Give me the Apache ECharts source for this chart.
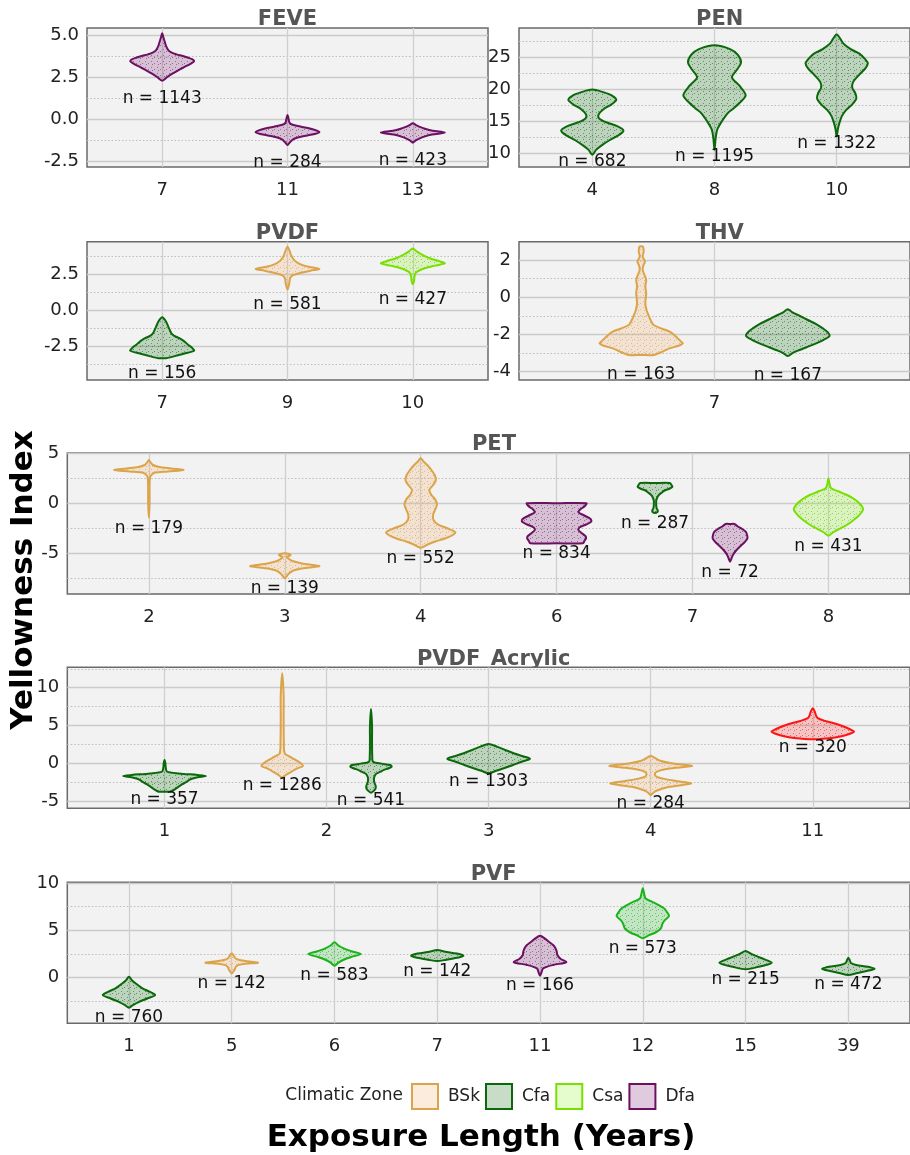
<!DOCTYPE html>
<html><head><meta charset="utf-8">
<script src="https://cdn.jsdelivr.net/npm/echarts@6/dist/echarts.min.js"></script>
<style>html,body{margin:0;padding:0;background:#fff}#c{width:910px;height:1155px}</style>
</head><body><div id="c"></div>
<script>
// ---------------- DATA ----------------
// FEVE
const feveYears = ['7', '11', '13'];
const feveYTicks = [-2.5, 0, 2.5, 5];
const feveViolinYear = ['7', '11', '13'];
const feveViolinZone = ['Dfa', 'Dfa', 'Dfa'];
const feveN = [1143, 284, 423];
const feveYs = [
  [5.1, 4.85, 4.6, 4.35, 4.1, 3.95, 3.85, 3.75, 3.65, 3.55, 3.45, 3.3, 3.1, 2.9, 2.7, 2.5, 2.28],
  [0.24, 0.05, -0.15, -0.3, -0.45, -0.57, -0.68, -0.78, -0.88, -0.97, -1.06, -1.15, -1.25, -1.4, -1.55],
  [-0.26, -0.36, -0.47, -0.58, -0.7, -0.815, -0.93, -1.05, -1.17, -1.29, -1.41]
];
const feveWs = [
  [0, 0.04, 0.08, 0.12, 0.19, 0.3, 0.45, 0.65, 0.82, 0.95, 1.0, 0.9, 0.7, 0.5, 0.32, 0.16, 0],
  [0, 0.03, 0.05, 0.1, 0.4, 0.7, 0.9, 1.0, 0.88, 0.65, 0.42, 0.25, 0.15, 0.07, 0],
  [0, 0.1, 0.22, 0.38, 0.62, 1.0, 0.6, 0.36, 0.2, 0.08, 0]
];
// PEN
const penYears = ['4', '8', '10'];
const penYTicks = [10, 15, 20, 25];
const penViolinYear = ['4', '8', '10'];
const penViolinZone = ['Cfa', 'Cfa', 'Cfa'];
const penN = [682, 1195, 1322];
const penYs = [
  [19.9, 19.5, 19.0, 18.3, 17.6, 16.8, 16.0, 15.4, 14.8, 14.2, 13.5, 12.8, 12.0, 11.2, 10.5, 9.75],
  [26.8, 26.2, 25.3, 24.1, 23.0, 21.8, 20.5, 19.0, 17.8, 17.0, 16.2, 14.9, 13.8, 13.1, 12.0, 10.5],
  [28.5, 27.1, 26.2, 25.5, 24.6, 24.0, 23.2, 22.2, 21.1, 20.2, 19.3, 18.5, 17.6, 16.7, 15.8, 14.9, 13.8, 12.6]
];
const penWs = [
  [0, 0.35, 0.62, 0.77, 0.62, 0.35, 0.2, 0.22, 0.45, 0.8, 1.0, 0.85, 0.55, 0.3, 0.12, 0],
  [0, 0.5, 0.75, 0.85, 0.72, 0.56, 0.8, 1.0, 0.8, 0.62, 0.42, 0.23, 0.1, 0.06, 0.03, 0],
  [0, 0.21, 0.45, 0.73, 0.92, 1.0, 0.92, 0.72, 0.53, 0.5, 0.6, 0.63, 0.5, 0.3, 0.17, 0.1, 0.04, 0]
];
// PVDF
const pvdfYears = ['7', '9', '10'];
const pvdfYTicks = [-2.5, 0, 2.5];
const pvdfViolinYear = ['7', '9', '10'];
const pvdfViolinZone = ['Cfa', 'BSk', 'Csa'];
const pvdfN = [156, 581, 427];
const pvdfYs = [
  [-0.51, -0.8, -1.16, -1.4, -1.63, -1.8, -1.98, -2.2, -2.4, -2.56, -2.72, -2.84, -2.98, -3.15, -3.3, -3.36, -3.36],
  [4.42, 4.1, 3.9, 3.6, 3.35, 3.15, 3.0, 2.87, 2.75, 2.6, 2.45, 2.3, 2.1, 1.8, 1.44],
  [4.3, 4.1, 3.85, 3.6, 3.4, 3.26, 3.1, 2.9, 2.7, 2.55, 2.3, 2.05, 1.81]
];
const pvdfWs = [
  [0, 0.12, 0.19, 0.24, 0.29, 0.38, 0.55, 0.7, 0.8, 0.9, 0.97, 1.0, 0.8, 0.5, 0.25, 0.12, 0],
  [0, 0.07, 0.1, 0.17, 0.28, 0.45, 0.7, 1.0, 0.72, 0.42, 0.2, 0.1, 0.07, 0.05, 0],
  [0, 0.12, 0.3, 0.55, 0.85, 1.0, 0.7, 0.35, 0.15, 0.08, 0.05, 0.04, 0]
];
// THV
const thvYears = ['7'];
const thvYTicks = [-4, -2, 0, 2];
const thvViolinYear = ['7', '7'];
const thvViolinZone = ['BSk', 'Cfa'];
const thvN = [163, 167];
const thvYs = [
  [2.76, 2.74, 2.47, 2.2, 1.93, 1.7, 1.48, 1.2, 0.93, 0.6, 0.22, -0.32, -0.7, -1.05, -1.3, -1.5, -1.7, -1.86, -2.05, -2.22, -2.4, -2.49, -2.62, -2.76, -2.9, -3.0, -3.12, -3.12],
  [-0.65, -0.8, -1.0, -1.23, -1.45, -1.68, -1.9, -2.09, -2.3, -2.49, -2.7, -2.85, -3.0, -3.17]
];
const thvWs = [
  [0, 0.04, 0.06, 0.035, 0.09, 0.05, 0.035, 0.08, 0.12, 0.1, 0.12, 0.1, 0.13, 0.19, 0.24, 0.3, 0.5, 0.68, 0.8, 0.88, 0.96, 1.0, 0.9, 0.68, 0.55, 0.45, 0.3, 0],
  [0, 0.1, 0.28, 0.48, 0.68, 0.84, 0.96, 1.0, 0.86, 0.68, 0.45, 0.28, 0.12, 0]
];
// PET
const petYears = ['2', '3', '4', '6', '7', '8'];
const petYTicks = [-5, 0, 5];
const petViolinYear = ['2', '3', '4', '6', '7', '7', '8'];
const petViolinZone = ['BSk', 'BSk', 'BSk', 'Dfa', 'Cfa', 'Dfa', 'Csa'];
const petN = [179, 139, 552, 834, 287, 72, 431];
const petYs = [
  [4.35, 4.1, 3.85, 3.65, 3.5, 3.35, 3.2, 3.05, 2.8, 2.5, 1.5, 0, -1.42],
  [-4.98, -5.05, -5.15, -5.25, -5.35, -5.5, -5.75, -6.0, -6.25, -6.45, -6.7, -7.0, -7.25, -7.48],
  [4.52, 4.2, 3.8, 3.3, 2.8, 2.35, 1.85, 1.35, 0.9, 0.4, -0.08, -0.6, -1.1, -1.65, -2.1, -2.5, -2.88, -3.2, -3.5, -3.8, -4.1, -4.42],
  [0.02, 0.02, -0.3, -0.6, -0.88, -1.2, -1.55, -1.82, -2.1, -2.4, -2.65, -2.95, -3.25, -3.48, -3.75, -3.98, -3.98],
  [2.05, 2.05, 1.85, 1.68, 1.5, 1.3, 1.1, 0.9, 0.68, 0.3, -0.2, -0.5, -0.7, -0.85, -0.95],
  [-2.05, -2.05, -2.3, -2.55, -2.82, -3.15, -3.48, -3.9, -4.32, -4.7, -5.1, -5.5, -5.82],
  [2.52, 2.0, 1.52, 1.2, 0.85, 0.5, 0.1, -0.3, -0.58, -0.9, -1.3, -1.65, -2.1, -2.48, -2.85, -3.22]
];
const petWs = [
  [0, 0.05, 0.12, 0.3, 0.65, 1.0, 0.55, 0.15, 0.06, 0.03, 0.02, 0.02, 0],
  [0, 0.12, 0.17, 0.12, 0.06, 0.1, 0.22, 0.5, 1.0, 0.6, 0.25, 0.12, 0.06, 0],
  [0, 0.08, 0.2, 0.32, 0.41, 0.44, 0.36, 0.25, 0.3, 0.42, 0.47, 0.42, 0.36, 0.37, 0.5, 0.78, 1.0, 0.9, 0.7, 0.42, 0.2, 0],
  [0, 0.86, 0.8, 0.68, 0.63, 0.8, 0.98, 1.0, 0.85, 0.66, 0.63, 0.72, 0.83, 0.85, 0.8, 0.76, 0],
  [0, 0.85, 0.95, 1.0, 0.85, 0.55, 0.4, 0.25, 0.15, 0.07, 0.07, 0.1, 0.16, 0.14, 0],
  [0, 0.25, 0.45, 0.7, 0.9, 0.98, 1.0, 0.82, 0.56, 0.35, 0.18, 0.08, 0],
  [0, 0.03, 0.08, 0.3, 0.54, 0.72, 0.87, 0.97, 1.0, 0.95, 0.85, 0.73, 0.55, 0.35, 0.15, 0]
];
// PVDF Acrylic
const acrYears = ['1', '2', '3', '4', '11'];
const acrYTicks = [-5, 0, 5, 10];
const acrViolinYear = ['1', '2', '2', '3', '4', '11'];
const acrViolinZone = ['Cfa', 'BSk', 'Cfa', 'Cfa', 'BSk', 'Zone F'];
const acrN = [357, 1286, 541, 1303, 284, 320];
const acrYs = [
  [0.44, 0, -0.6, -1.11, -1.35, -1.55, -1.68, -1.85, -2.05, -2.21, -2.5, -2.8, -3.1, -3.45, -3.76, -3.76],
  [11.92, 9, 6, 3, 1.32, 0.9, 0.5, 0.1, -0.36, -0.7, -1.11, -1.5, -1.9],
  [7.19, 5, 3, 1, 0.21, -0.05, -0.23, -0.45, -0.66, -0.9, -1.11, -1.4, -1.8, -2.21, -2.6, -2.95, -3.27, -3.6, -3.89],
  [2.56, 2.2, 1.76, 1.3, 0.9, 0.57, 0.2, -0.2, -0.6, -1.0, -1.32],
  [1.0, 0.7, 0.3, 0.0, -0.2, -0.36, -0.55, -0.8, -1.1, -1.46, -1.8, -2.1, -2.4, -2.65, -2.9, -3.2, -3.6, -3.9, -4.2],
  [7.28, 6.8, 6.3, 5.96, 5.6, 5.3, 5.0, 4.7, 4.4, 4.19, 3.9, 3.6, 3.35, 3.18]
];
const acrWs = [
  [0, 0.02, 0.03, 0.06, 0.35, 0.8, 1.0, 0.8, 0.66, 0.6, 0.52, 0.42, 0.34, 0.25, 0.15, 0],
  [0, 0.07, 0.07, 0.08, 0.12, 0.35, 0.6, 0.85, 1.0, 0.7, 0.45, 0.2, 0],
  [0, 0.05, 0.05, 0.06, 0.1, 0.5, 0.92, 1.0, 0.85, 0.6, 0.46, 0.25, 0.16, 0.14, 0.17, 0.22, 0.23, 0.15, 0],
  [0, 0.2, 0.4, 0.62, 0.85, 1.0, 0.8, 0.6, 0.4, 0.18, 0],
  [0, 0.1, 0.25, 0.5, 0.8, 1.0, 0.7, 0.35, 0.15, 0.1, 0.15, 0.35, 0.7, 0.98, 0.75, 0.38, 0.15, 0.06, 0],
  [0, 0.05, 0.08, 0.12, 0.3, 0.51, 0.68, 0.82, 0.94, 1.0, 0.9, 0.72, 0.45, 0]
];
// PVF
const pvfYears = ['1', '5', '6', '7', '11', '12', '15', '39'];
const pvfYTicks = [0, 5, 10];
const pvfViolinYear = ['1', '5', '6', '7', '11', '12', '15', '39'];
const pvfViolinZone = ['Cfa', 'BSk', 'Zone E', 'Cfa', 'Dfa', 'Zone E', 'Cfa', 'Cfa'];
const pvfN = [760, 142, 583, 142, 166, 573, 215, 472];
const pvfYs = [
  [0.1, -0.3, -0.7, -1.1, -1.5, -1.83, -2.2, -2.6, -2.9, -3.17],
  [2.57, 2.3, 2.05, 1.86, 1.7, 1.58, 1.45, 1.3, 1.1, 0.8, 0.46],
  [3.74, 3.4, 3.1, 2.8, 2.5, 2.2, 1.9, 1.6, 1.27],
  [2.92, 2.75, 2.55, 2.32, 2.1, 1.9, 1.76],
  [4.44, 4.1, 3.8, 3.45, 3.1, 2.75, 2.4, 2.0, 1.63, 1.35, 0.99, 0.6, 0.21],
  [9.44, 8.9, 8.38, 7.9, 7.33, 6.9, 6.51, 6.1, 5.7, 5.22, 4.8, 4.45, 4.16],
  [2.82, 2.55, 2.3, 2.05, 1.8, 1.58, 1.35, 1.15, 0.89],
  [2.11, 1.8, 1.55, 1.34, 1.15, 0.92, 0.7, 0.5, 0.29]
];
const pvfWs = [
  [0, 0.12, 0.3, 0.5, 0.8, 1.0, 0.7, 0.35, 0.15, 0],
  [0, 0.08, 0.14, 0.3, 0.7, 1.0, 0.45, 0.22, 0.15, 0.1, 0],
  [0, 0.15, 0.35, 0.65, 1.0, 0.65, 0.35, 0.15, 0],
  [0, 0.3, 0.75, 1.0, 0.75, 0.35, 0],
  [0, 0.2, 0.34, 0.5, 0.59, 0.64, 0.66, 0.78, 1.0, 0.5, 0.12, 0.06, 0],
  [0, 0.05, 0.11, 0.45, 0.81, 0.93, 1.0, 0.85, 0.75, 0.69, 0.5, 0.2, 0],
  [0, 0.2, 0.4, 0.62, 0.85, 1.0, 0.8, 0.5, 0],
  [0, 0.06, 0.1, 0.3, 0.75, 1.0, 0.7, 0.35, 0]
];
const legendZones = ['BSk', 'Cfa', 'Csa', 'Dfa'];

// ---------------- STYLE / LAYOUT ----------------
const FONT = "'DejaVu Sans', sans-serif";
const zoneStroke = {BSk:'#dba44a', Cfa:'#0b680b', Csa:'#78e000', Dfa:'#6c1062', 'Zone E':'#1bb31b', 'Zone F':'#ff1414'};
const zoneFill = {BSk:'rgba(240,170,100,0.22)', Cfa:'rgba(0,100,0,0.22)', Csa:'rgba(124,240,0,0.2)', Dfa:'rgba(108,16,98,0.22)', 'Zone E':'rgba(30,180,30,0.22)', 'Zone F':'rgba(255,20,20,0.2)'};
const zoneDot = {BSk:'rgba(219,164,74,0.6)', Cfa:'rgba(11,104,11,0.55)', Csa:'rgba(110,200,0,0.6)', Dfa:'rgba(108,16,98,0.5)', 'Zone E':'rgba(27,179,27,0.6)', 'Zone F':'rgba(255,20,20,0.55)'};
const HALF_SINGLE = 0.255, HALF_DODGED = 0.128;

function makePattern(z) {
  const c = document.createElement('canvas'); c.width = 6; c.height = 6;
  const g = c.getContext('2d');
  g.fillStyle = zoneFill[z]; g.fillRect(0, 0, 6, 6);
  g.fillStyle = zoneDot[z];
  g.fillRect(1, 1, 1, 1); g.fillRect(4, 3, 1, 1); g.fillRect(2, 4, 1, 1);
  return {image: c, repeat: 'repeat'};
}
const patterns = {};
Object.keys(zoneStroke).forEach(z => patterns[z] = makePattern(z));

const panels = [
  {title:'FEVE', years:feveYears, yTicks:feveYTicks, vYear:feveViolinYear, vZone:feveViolinZone, n:feveN, ys:feveYs, ws:feveWs,
   box:{left:87, top:28, width:401, height:139}, yr:[-2.86, 5.42], dec:1, dodge:0.25},
  {title:'PEN', years:penYears, yTicks:penYTicks, vYear:penViolinYear, vZone:penViolinZone, n:penN, ys:penYs, ws:penWs,
   box:{left:519, top:28, width:401.5, height:139}, yr:[7.83, 29.5], dec:0, dodge:0.25},
  {title:'PVDF', years:pvdfYears, yTicks:pvdfYTicks, vYear:pvdfViolinYear, vZone:pvdfViolinZone, n:pvdfN, ys:pvdfYs, ws:pvdfWs,
   box:{left:87, top:241.7, width:401, height:138.3}, yr:[-4.88, 4.77], dec:1, dodge:0.25},
  {title:'THV', years:thvYears, yTicks:thvYTicks, vYear:thvViolinYear, vZone:thvViolinZone, n:thvN, ys:thvYs, ws:thvWs,
   box:{left:519, top:241.7, width:401.5, height:138.3}, yr:[-4.47, 3.0], dec:0, dodge:0.225},
  {title:'PET', years:petYears, yTicks:petYTicks, vYear:petViolinYear, vZone:petViolinZone, n:petN, ys:petYs, ws:petWs,
   box:{left:67.3, top:453, width:853.3, height:141}, yr:[-9.05, 5.05], dec:0, dodge:0.276},
  {title:'PVDF_Acrylic', years:acrYears, yTicks:acrYTicks, vYear:acrViolinYear, vZone:acrViolinZone, n:acrN, ys:acrYs, ws:acrWs,
   box:{left:67.3, top:667.3, width:852.8, height:141}, yr:[-5.96, 12.7], dec:0, dodge:0.274},
  {title:'PVF', years:pvfYears, yTicks:pvfYTicks, vYear:pvfViolinYear, vZone:pvfViolinZone, n:pvfN, ys:pvfYs, ws:pvfWs,
   box:{left:67.3, top:882.3, width:852.8, height:141}, yr:[-4.82, 10.08], dec:0, dodge:0.25}
];

const grids = [], xAxes = [], yAxes = [], series = [], graphics = [];
panels.forEach((p, pi) => {
  grids.push(Object.assign({show:true, backgroundColor:'#f2f2f2', borderColor:'#6a6a6a', borderWidth:1.5}, p.box));
  const idxs = p.years.map((_, i) => i);
  xAxes.push({gridIndex:pi, type:'value', min:-0.6, max:p.years.length - 1 + 0.6,
    axisLine:{show:false}, axisTick:{show:false, customValues:idxs},
    axisLabel:{customValues:idxs, formatter:v => p.years[Math.round(v)], fontSize:18, fontFamily:FONT, color:'#222', margin:14},
    splitLine:{show:true, lineStyle:{color:'#cfcfcf', width:1.3}}});
  const step = p.yTicks[1] - p.yTicks[0];
  const minors = [];
  for (let v = p.yTicks[0] - step / 2; v <= p.yTicks[p.yTicks.length - 1] + step; v += step) {
    if (v > p.yr[0] && v < p.yr[1]) minors.push(+v.toFixed(4));
  }
  yAxes.push({gridIndex:pi, type:'value', min:p.yr[0], max:p.yr[1],
    axisLine:{show:false}, axisTick:{show:false, customValues:p.yTicks},
    axisLabel:{customValues:p.yTicks, formatter:v => (+v).toFixed(p.dec), fontSize:18, fontFamily:FONT, color:'#222', margin:8},
    splitLine:{show:true, lineStyle:{color:'#cbcbcb', width:1.3}}});
  yAxes.push({gridIndex:pi, type:'value', min:p.yr[0], max:p.yr[1],
    axisLine:{show:false}, axisTick:{show:false, customValues:minors},
    axisLabel:{show:false},
    splitLine:{show:true, lineStyle:{color:'#bdbdbd', width:1, type:[1.5, 2]}}});
  const count = {}, seen = {};
  p.vYear.forEach(y => count[y] = (count[y] || 0) + 1);
  const zones = [...new Set(p.vZone)];
  const byZone = {};
  p.vYear.forEach((y, k) => {
    const ci = p.years.indexOf(y);
    let xc = ci, dodged = 0;
    if (count[y] > 1) { const s = seen[y] || 0; seen[y] = s + 1; xc = ci + (s === 0 ? -p.dodge : p.dodge); dodged = 1; }
    const z = p.vZone[k];
    (byZone[z] = byZone[z] || []).push([xc, k, dodged, (p.yr[0] + p.yr[1]) / 2]);
  });
  zones.forEach(z => {
    series.push({type:'custom', name:z, xAxisIndex:pi, yAxisIndex:pi * 2, z:3,
      encode:{x:0, y:3}, data:byZone[z], silent:true,
      itemStyle:{color:zoneStroke[z]},
      renderItem:(params, api) => {
        const xc = api.value(0), k = api.value(1), dodged = api.value(2) === 1;
        const ys = p.ys[k], ws = p.ws[k];
        const hw = dodged ? HALF_DODGED : HALF_SINGLE;
        const pts = [];
        for (let i = 0; i < ys.length; i++) pts.push(api.coord([xc + ws[i] * hw, ys[i]]));
        for (let i = ys.length - 2; i >= 1; i--) pts.push(api.coord([xc - ws[i] * hw, ys[i]]));
        const lp = api.coord([xc, Math.min(...ys) - 1.07]);
        return {type:'group', children:[
          {type:'polygon', shape:{points:pts, smooth:0.3},
           style:{fill:patterns[z], stroke:zoneStroke[z], lineWidth:2, lineJoin:'round'}},
          {type:'text', x:lp[0], y:lp[1], z2:10,
           style:{text:'n = ' + p.n[k], textAlign:'center', textVerticalAlign:'middle', fontSize:17, fontFamily:FONT, fill:'#111'}}
        ]};
      }});
  });
  graphics.push({type:'text', z:-5, x:p.box.left + p.box.width / 2, y:p.box.top - 8,
    style:{text:p.title, textAlign:'center', textVerticalAlign:'middle', fontSize:21, fontWeight:'bold', fontFamily:FONT, fill:'#555'}});
});

graphics.push({type:'text', x:24, y:580, rotation:Math.PI / 2,
  style:{text:'Yellowness Index', textAlign:'center', textVerticalAlign:'middle', fontSize:31, fontWeight:'bold', fontFamily:FONT, fill:'#000'}});
graphics.push({type:'text', x:481, y:1138,
  style:{text:'Exposure Length (Years)', textAlign:'center', textVerticalAlign:'middle', fontSize:31, fontWeight:'bold', fontFamily:FONT, fill:'#000'}});
graphics.push({type:'text', x:403, y:1096,
  style:{text:'Climatic Zone', textAlign:'right', textVerticalAlign:'middle', fontSize:17, fontFamily:FONT, fill:'#222'}});

const chart = echarts.init(document.getElementById('c'), null, {renderer:'canvas'});
chart.setOption({
  animation:false,
  backgroundColor:'#ffffff',
  grid:grids, xAxis:xAxes, yAxis:yAxes, series:series,
  legend:{left:411, top:1083, padding:0, itemWidth:26, itemHeight:25, itemGap:5, icon:'rect', selectedMode:false,
    textStyle:{fontSize:17, fontFamily:FONT, color:'#222', padding:[0, 0, 0, 5]},
    data:legendZones.map(z => ({name:z, itemStyle:{color:zoneFill[z], borderColor:zoneStroke[z], borderWidth:2}}))},
  graphic:graphics
});
</script></body></html>
